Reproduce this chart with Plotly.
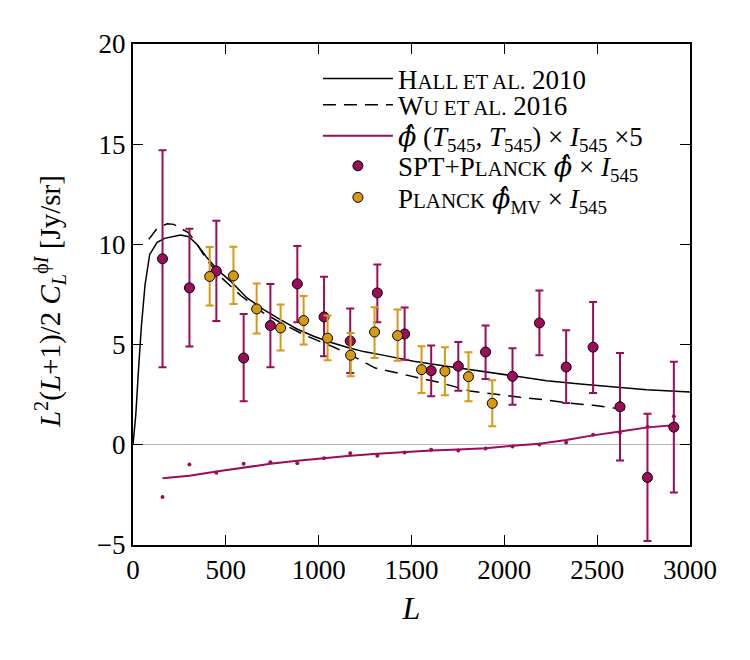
import plotly.graph_objects as go

# ---------------- data ----------------
L_spt = [159, 304, 449, 596, 740, 885, 1029, 1170, 1316, 1463, 1606, 1752, 1899, 2044, 2189, 2333, 2478, 2623, 2771, 2913]
spt_val = [9.28, 7.83, 8.67, 4.33, 5.95, 8.03, 6.38, 5.18, 7.58, 5.53, 3.70, 3.92, 4.63, 3.42, 6.08, 3.88, 4.87, 1.90, -1.63, 0.88]
spt_hi = [14.70, 10.78, 11.18, 6.53, 8.03, 9.92, 8.38, 6.80, 9.00, 6.85, 4.95, 5.13, 5.95, 4.82, 7.70, 5.72, 7.12, 4.58, 1.55, 4.15]
spt_lo = [3.87, 4.90, 6.18, 2.17, 3.87, 6.12, 4.42, 3.58, 6.12, 4.25, 2.42, 2.70, 3.28, 2.00, 4.47, 2.08, 2.58, -0.78, -4.80, -2.38]

L_pl = [413, 541, 666, 795, 919, 1048, 1172, 1301, 1425, 1554, 1680, 1807, 1935]
pl_val = [8.40, 8.43, 6.78, 5.83, 6.20, 5.32, 4.47, 5.63, 5.45, 3.75, 3.67, 3.40, 2.07]
pl_hi = [9.87, 9.88, 8.05, 7.00, 7.42, 6.45, 5.58, 6.87, 6.75, 4.92, 4.87, 4.62, 3.22]
pl_lo = [6.95, 7.03, 5.55, 4.70, 5.00, 4.22, 3.42, 4.33, 4.20, 2.58, 2.47, 2.17, 0.92]

L_hall = [0, 15, 30, 45, 65, 90, 130, 170, 256, 300, 345, 399, 453, 525, 614, 704, 794, 883, 973,
          1063, 1152, 1242, 1332, 1511, 1690, 1870, 2049, 2228, 2408, 2587, 2766, 3000]
hall = [0, 1.5, 3.8, 5.9, 8.0, 9.5, 10.1, 10.3, 10.47, 10.38, 10.0, 9.33, 8.75, 8.17, 7.33, 6.75, 6.25,
        5.78, 5.42, 5.12, 4.87, 4.65, 4.50, 4.17, 3.92, 3.67, 3.42, 3.20, 3.03, 2.88, 2.75, 2.63]

L_wu = [85, 130, 184, 220, 300, 345, 400, 470, 580, 700, 812, 930, 1080, 1180, 1305, 1426, 1556,
        1664, 1816, 1950, 2085, 2219, 2335, 2478, 2613, 2650]
wu = [10.25, 10.8, 11.03, 11.0, 10.58, 10.0, 9.2, 8.4, 7.45, 6.6, 6.0, 5.45, 4.88, 4.45, 3.83, 3.58,
      3.28, 3.08, 2.68, 2.52, 2.37, 2.25, 2.10, 1.97, 1.82, 1.76]

phi_line = [-1.67, -1.55, -1.33, -1.12, -0.95, -0.80, -0.67, -0.55, -0.45, -0.37, -0.28, -0.24,
            -0.17, -0.05, 0.05, 0.24, 0.47, 0.66, 0.87, 0.97]
phi_dots = [-2.60, -0.98, -1.40, -0.95, -0.87, -0.92, -0.67, -0.42, -0.55, -0.38, -0.25, -0.28,
            -0.18, -0.08, 0.02, 0.12, 0.50, 0.60, 0.90, 1.42]

x_ticks = [0, 500, 1000, 1500, 2000, 2500, 3000]
y_ticks = [-5, 0, 5, 10, 15, 20]

MAG = "#9c0c5a"
ORA = "#d69a12"
FONT = "Liberation Serif"
LEG_FS = 27


def sc(s, size=21):
    return f"<span style='font-size:{size}px'>{s}</span>"


phihat = "<span style='font-family:DejaVu Serif'><i>\u03d5\u0302</i></span>"

names = [
    "H" + sc("ALL ET AL.") + " 2010",
    "W" + sc("U ET AL.") + " 2016",
    phihat + " (<i>T</i><sub>545</sub>, <i>T</i><sub>545</sub>) \u00d7 <i>I</i><sub>545</sub> \u00d75",
    "SPT+P" + sc("LANCK") + " " + phihat + " \u00d7 <i>I</i><sub>545</sub>",
    "P" + sc("LANCK") + " " + phihat + "<sub>MV</sub> \u00d7 <i>I</i><sub>545</sub>",
]
leg_ids = ["legend", "legend2", "legend3", "legend4", "legend5"]

fig = go.Figure()

fig.add_trace(go.Scatter(x=L_hall, y=hall, mode="lines", line=dict(color="black", width=1.5),
                         name=names[0], legend=leg_ids[0]))
fig.add_trace(go.Scatter(x=L_wu, y=wu, mode="lines", line=dict(color="black", width=1.5, dash="13px,8px"),
                         name=names[1], legend=leg_ids[1]))
fig.add_trace(go.Scatter(x=L_spt, y=phi_line, mode="lines", line=dict(color=MAG, width=2),
                         name=names[2], legend=leg_ids[2]))
fig.add_trace(go.Scatter(x=L_spt, y=phi_dots, mode="markers", marker=dict(color=MAG, size=4),
                         showlegend=False, hoverinfo="skip"))
fig.add_trace(go.Scatter(
    x=L_spt, y=spt_val, mode="markers",
    marker=dict(color=MAG, size=10, line=dict(color="black", width=1)),
    error_y=dict(type="data", symmetric=False,
                 array=[h - v for h, v in zip(spt_hi, spt_val)],
                 arrayminus=[v - l for v, l in zip(spt_val, spt_lo)],
                 color=MAG, thickness=2, width=4),
    name=names[3], legend=leg_ids[3]))
fig.add_trace(go.Scatter(
    x=L_pl, y=pl_val, mode="markers",
    marker=dict(color=ORA, size=10, line=dict(color="black", width=1)),
    error_y=dict(type="data", symmetric=False,
                 array=[h - v for h, v in zip(pl_hi, pl_val)],
                 arrayminus=[v - l for v, l in zip(pl_val, pl_lo)],
                 color=ORA, thickness=2, width=4),
    name=names[4], legend=leg_ids[4]))

axis_common = dict(showline=True, linecolor="black", linewidth=2, mirror="ticks",
                   ticks="inside", ticklen=10, tickwidth=1.2, tickcolor="black",
                   showgrid=False, tickfont=dict(family=FONT, size=27, color="black"))

fig.update_xaxes(range=[0, 3000], tickvals=x_ticks, zeroline=False,
                 title=dict(text="<i>L</i>", font=dict(family=FONT, size=32, color="black"), standoff=12),
                 **axis_common)
fig.update_yaxes(range=[-5, 20], tickvals=y_ticks, zeroline=True, zerolinecolor="#b8b8b8", zerolinewidth=1,
                 **axis_common)

fig.add_annotation(
    text="<i>L</i><sup>2</sup>(<i>L</i>+1)/2 <i>C</i><sub><i>L</i></sub><sup>\u03d5<i>I</i></sup> [Jy/sr]",
    xref="paper", yref="paper", x=-0.149, y=0.485, xanchor="center", yanchor="middle",
    textangle=-90, showarrow=False, font=dict(family=FONT, size=29, color="black"))

# legend rows (pixel centres 79,105,136,169,202 -> paper fractions of plot height 44..545)
row_y = [0.930, 0.878, 0.816, 0.756, 0.693]
legends = {}
for lid, yy in zip(leg_ids, row_y):
    legends[lid] = dict(x=0.332, y=yy, xanchor="left", yanchor="middle", bgcolor="rgba(0,0,0,0)",
                        font=dict(family=FONT, size=LEG_FS, color="black"), itemwidth=70)

fig.update_layout(
    width=750, height=660,
    margin=dict(l=133, r=60, t=44, b=115),
    plot_bgcolor="white", paper_bgcolor="white",
    font=dict(family=FONT, color="black"),
    **legends,
)

fig.write_html("out.html")
